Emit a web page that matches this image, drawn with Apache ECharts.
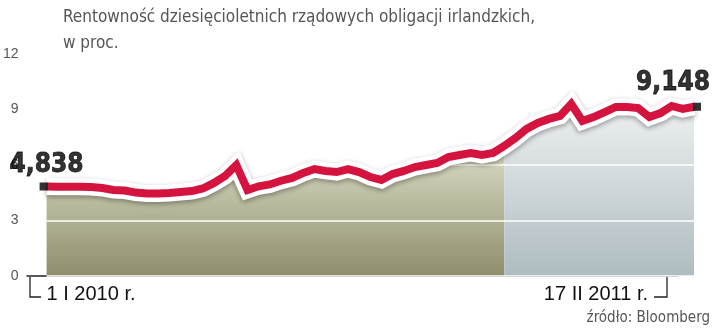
<!DOCTYPE html>
<html><head><meta charset="utf-8">
<script src="https://cdn.jsdelivr.net/npm/echarts@6/dist/echarts.min.js"></script>
<style>html,body{margin:0;padding:0;background:#fff}#c{width:720px;height:335px}</style>
</head><body><div id="c"></div>
<script>
const categories = [
 '2010-01-01','2010-01-08','2010-01-15','2010-01-22','2010-01-29',
 '2010-02-05','2010-02-12','2010-02-19','2010-02-26',
 '2010-03-05','2010-03-12','2010-03-19','2010-03-26',
 '2010-04-02','2010-04-09','2010-04-16','2010-04-23','2010-04-30',
 '2010-05-07','2010-05-14','2010-05-21','2010-05-28',
 '2010-06-04','2010-06-11','2010-06-18','2010-06-25',
 '2010-07-02','2010-07-09','2010-07-16','2010-07-23','2010-07-30',
 '2010-08-06','2010-08-13','2010-08-20','2010-08-27',
 '2010-09-03','2010-09-10','2010-09-17','2010-09-24',
 '2010-10-01','2010-10-08','2010-10-15','2010-10-22','2010-10-29',
 '2010-11-05','2010-11-12','2010-11-19','2010-11-26',
 '2010-12-03','2010-12-10','2010-12-17','2010-12-24','2010-12-31',
 '2011-01-07','2011-01-14','2011-01-21','2011-01-28',
 '2011-02-04','2011-02-17'
];
const yields = [
 4.838, 4.83, 4.83, 4.83, 4.81, 4.76, 4.65, 4.62, 4.51, 4.46,
 4.46, 4.49, 4.54, 4.59, 4.73, 5.03, 5.41, 6.00, 4.65, 4.85,
 4.95, 5.15, 5.30, 5.57, 5.78, 5.68, 5.62, 5.78, 5.62, 5.35,
 5.19, 5.51, 5.68, 5.89, 6.00, 6.11, 6.43, 6.54, 6.65, 6.54,
 6.65, 7.03, 7.46, 7.95, 8.27, 8.49, 8.65, 9.30, 8.38, 8.59,
 8.86, 9.14, 9.14, 9.08, 8.59, 8.81, 9.19, 9.03, 9.148
];
const yTicks = [0, 3, 6, 9, 12];
const endLabels = ['1 I 2010 r.', '17 II 2011 r.'];
const titleLines = ['Rentowność dziesięcioletnich rządowych obligacji irlandzkich,', 'w proc.'];
const sourceText = 'źródło: Bloomberg';
const splitIndex = 41;

const last = yields.length - 1;
const oliveData = yields.map((v, i) => i <= splitIndex ? v : '-');
const greyData = yields.map((v, i) => i >= splitIndex ? v : '-');
const fmt = v => v.toFixed(3).replace('.', ',');
const narrow = "'DejaVu Sans Condensed', sans-serif";

const chart = echarts.init(document.getElementById('c'), null, {renderer: 'canvas'});
chart.setOption({
  animation: false,
  backgroundColor: '#fff',
  title: [
    {text: titleLines.join('\n'), left: 58, top: 0,
     textStyle: {fontFamily: narrow, fontSize: 17, fontWeight: 'normal', color: '#555', lineHeight: 26}},
    {text: sourceText, right: 5, bottom: 4,
     textStyle: {fontFamily: narrow, fontSize: 15, fontWeight: 'normal', color: '#555'}}
  ],
  grid: [
    {left: 46, right: 26, top: 54, bottom: 59},
    {left: 27, right: 42, top: 54, bottom: 59}
  ],
  xAxis: [
    {type: 'category', gridIndex: 0, data: categories, boundaryGap: false,
     axisLine: {show: false}, axisTick: {show: false}, splitLine: {show: false},
     axisLabel: {
       interval: (i) => i === 0 || i === last,
       formatter: (val, i) => i === 0 ? endLabels[0] : endLabels[1],
       alignMinLabel: 'left', alignMaxLabel: 'right',
       padding: [0, 46, 0, 0],
       margin: 8, fontFamily: 'Liberation Sans', fontSize: 20, color: '#111'
     }},
    {type: 'value', gridIndex: 1, min: 0, max: 1,
     axisLine: {show: true, lineStyle: {color: '#222', width: 1.5}},
     axisTick: {show: false}, axisLabel: {show: false}, splitLine: {show: false}}
  ],
  yAxis: [
    {type: 'value', gridIndex: 0, min: yTicks[0], max: yTicks[yTicks.length - 1], interval: 3, z: 2,
     axisLine: {show: false}, axisTick: {show: false},
     axisLabel: {margin: 28, fontFamily: 'Liberation Sans', fontSize: 14, color: '#555', padding: [6, 0, 0, 0]},
     splitLine: {show: true, lineStyle: {color: '#ffffff', width: 1.5}}},
    {type: 'value', gridIndex: 1, min: 0, max: 12, show: false}
  ],
  graphic: [
    {type: 'polyline', shape: {points: [[30, 277], [30, 297], [41, 297]]}, style: {stroke: '#222', lineWidth: 1.3, fill: null}},
    {type: 'polyline', shape: {points: [[667, 277], [667, 297], [654, 297]]}, style: {stroke: '#222', lineWidth: 1.3, fill: null}}
  ],
  series: [
    {type: 'line', data: oliveData, z: 1, symbol: 'none', lineStyle: {width: 0},
     areaStyle: {opacity: 1, color: new echarts.graphic.LinearGradient(0, 0, 0, 1, [
       {offset: 0, color: '#dcdcc6'}, {offset: 1, color: '#8e8e6c'}])}},
    {type: 'line', data: greyData, z: 1, symbol: 'none', lineStyle: {width: 0},
     areaStyle: {opacity: 1, color: new echarts.graphic.LinearGradient(0, 0, 0, 1, [
       {offset: 0, color: '#eef0f0'}, {offset: 1, color: '#aebcc1'}])}},
    {type: 'line', data: yields, z: 3, symbol: 'none',
     lineStyle: {width: 17, color: '#ffffff', join: 'miter', shadowColor: 'rgba(0,0,0,0.35)', shadowBlur: 5, shadowOffsetY: 2}},
    {type: 'line', data: yields, z: 4, symbol: 'none',
     lineStyle: {width: 8, color: '#d4143f', join: 'miter'}},
    {type: 'scatter', z: 6, symbol: 'rect', symbolSize: 8, itemStyle: {color: '#000'},
     data: [
       {value: [0, yields[0]], symbolOffset: [-3, 0],
        label: {show: true, position: 'top', distance: 4, offset: [3, 0], formatter: fmt(yields[0])}},
       {value: [last, yields[last]], symbolOffset: [3, 0],
        label: {show: true, position: 'top', distance: 7, offset: [-24, 0], formatter: fmt(yields[last])}}
     ],
     label: {fontFamily: "'DejaVu Sans Condensed', sans-serif", fontWeight: 'bold', fontSize: 26, color: '#000',
             textBorderColor: '#000', textBorderWidth: 0.8}}
  ]
});
</script></body></html>
